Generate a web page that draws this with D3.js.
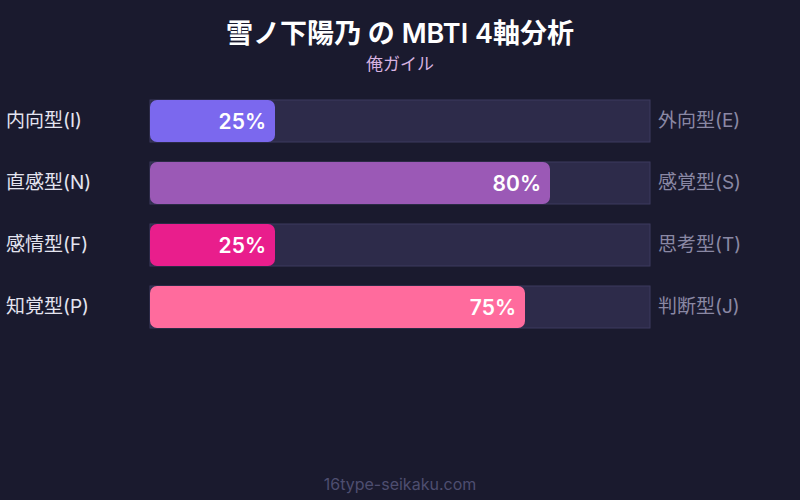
<!DOCTYPE html>
<html lang="ja">
<head>
  <meta charset="UTF-8">
  <title>MBTI 4軸分析</title>
  <style>
    body { margin: 0; background: #1a1a2e; }
    svg { display: block; font-family: Inter, "Noto Sans CJK JP", sans-serif; }
  </style>
</head>
<body>
  <svg></svg>
  <script src="https://cdn.jsdelivr.net/npm/d3@7"></script>
  <script>
    var width = 800
    var height = 500

    // data
    var leftLabels = ["内向型(I)", "直感型(N)", "感情型(F)", "知覚型(P)"]
    var rightLabels = ["外向型(E)", "感覚型(S)", "思考型(T)", "判断型(J)"]
    var values = [25, 80, 25, 75]
    var colors = ["#7b68ee", "#9b59b6", "#e91e8c", "#ff6b9d"]

    var svg = d3.select("svg")
      .attr("width", width)
      .attr("height", height)

    svg.append("rect")
      .attr("width", width).attr("height", height)
      .attr("fill", "#1a1a2e")

    svg.append("text")
      .attr("x", width / 2).attr("y", 43)
      .attr("text-anchor", "middle")
      .attr("fill", "#ffffff")
      .attr("font-size", 27).attr("font-weight", 600)
      .text("雪ノ下陽乃 の MBTI 4軸分析")

    svg.append("text")
      .attr("x", width / 2).attr("y", 70)
      .attr("text-anchor", "middle")
      .attr("fill", "#d6b2e0")
      .attr("font-size", 17)
      .text("俺ガイル")

    var x = d3.scaleLinear().domain([0, 100]).range([150, 650])
    var y = d3.scaleBand()
      .domain(d3.range(values.length))
      .range([100, 100 + 62 * values.length - 20])
      .paddingInner(20 / 62)
      .paddingOuter(0)

    var rows = svg.selectAll("g.row")
      .data(values)
      .join("g")
      .attr("class", "row")

    // track
    rows.append("rect")
      .attr("x", x(0))
      .attr("y", (d, i) => y(i))
      .attr("width", x(100) - x(0))
      .attr("height", y.bandwidth())
      .attr("fill", "#2d2b4a")
      .attr("stroke", "#3c3a5e")
      .attr("stroke-width", 1)

    // fill
    rows.append("rect")
      .attr("x", x(0))
      .attr("y", (d, i) => y(i))
      .attr("width", d => x(d) - x(0))
      .attr("height", y.bandwidth())
      .attr("rx", 7)
      .attr("fill", (d, i) => colors[i])

    rows.append("text")
      .attr("x", d => x(d) - 9)
      .attr("y", (d, i) => y(i) + y.bandwidth() / 2)
      .attr("dy", "0.36em")
      .attr("text-anchor", "end")
      .attr("fill", "#ffffff")
      .attr("font-size", 21).attr("font-weight", 600)
      .text(d => d + "%")

    rows.append("text")
      .attr("x", 6)
      .attr("y", (d, i) => y(i) + y.bandwidth() / 2 - 1)
      .attr("dy", "0.36em")
      .attr("fill", "#e4e4f0")
      .attr("font-size", 19)
      .text((d, i) => leftLabels[i])

    rows.append("text")
      .attr("x", 658)
      .attr("y", (d, i) => y(i) + y.bandwidth() / 2 - 1)
      .attr("dy", "0.36em")
      .attr("fill", "#8a88a4")
      .attr("font-size", 19)
      .text((d, i) => rightLabels[i])

    svg.append("text")
      .attr("x", width / 2).attr("y", 490)
      .attr("text-anchor", "middle")
      .attr("fill", "#4e4e70")
      .attr("font-size", 16)
      .text("16type-seikaku.com")
  </script>
</body>
</html>
